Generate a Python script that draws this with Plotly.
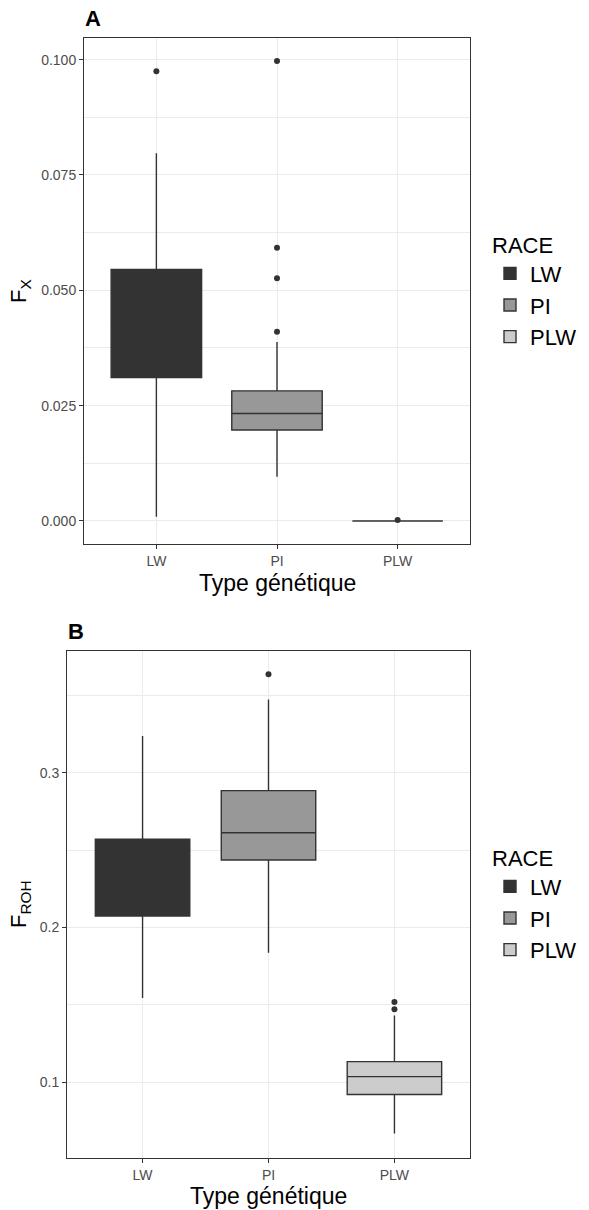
import plotly.graph_objects as go

# ---------------- data ----------------
categories = ["LW", "PI", "PLW"]
fill_colors = ["#333333", "#989898", "#CCCCCC"]

# Panel A : F_X
fx_q1 = [0.0311, 0.0197, 0.0]
fx_median = [0.0430, 0.0233, 0.0]
fx_q3 = [0.0545, 0.0282, 0.0]
fx_lower = [0.0009, 0.0096, 0.0]
fx_upper = [0.0797, 0.0388, 0.0]
fx_out_cat = ["LW", "PI", "PI", "PI", "PI", "PLW"]
fx_out_val = [0.0975, 0.0997, 0.0592, 0.0526, 0.0410, 0.0002]

# Panel B : F_ROH
froh_q1 = [0.2073, 0.2436, 0.0920]
froh_median = [0.2320, 0.2612, 0.1035]
froh_q3 = [0.2571, 0.2884, 0.1132]
froh_lower = [0.1543, 0.1836, 0.0668]
froh_upper = [0.3237, 0.3474, 0.1431]
froh_out_cat = ["PI", "PLW", "PLW"]
froh_out_val = [0.3636, 0.1517, 0.1470]

fx_ticks = [0.0, 0.025, 0.05, 0.075, 0.1]
fx_minor = [0.0125, 0.0375, 0.0625, 0.0875]
froh_ticks = [0.1, 0.2, 0.3]
froh_minor = [0.15, 0.25, 0.35]

# ---------------- layout helpers ----------------
W, H = 589, 1210
FONT = "Liberation Sans, Arial, sans-serif"


def fx(p):
    return p / W


def fy(p):
    return 1 - p / H


fig = go.Figure()


def add_panel(q1, med, q3, lo, up, out_cat, out_val, xa, ya, legend):
    for i, cat in enumerate(categories):
        fig.add_trace(go.Box(
            x=[cat], q1=[q1[i]], median=[med[i]], q3=[q3[i]],
            lowerfence=[lo[i]], upperfence=[up[i]],
            name=cat, legendgroup=legend + cat, legend=legend,
            fillcolor=fill_colors[i],
            line=dict(color="#333333", width=1.4),
            whiskerwidth=0, width=0.75, boxpoints=False,
            xaxis=xa, yaxis=ya, showlegend=True,
        ))
    fig.add_trace(go.Scatter(
        x=out_cat, y=out_val, mode="markers",
        marker=dict(color="#333333", size=6),
        showlegend=False, xaxis=xa, yaxis=ya,
    ))


add_panel(fx_q1, fx_median, fx_q3, fx_lower, fx_upper, fx_out_cat, fx_out_val, "x", "y", "legend")
add_panel(froh_q1, froh_median, froh_q3, froh_lower, froh_upper, froh_out_cat, froh_out_val, "x2", "y2", "legend2")

axis_common = dict(
    showline=True, linecolor="#333333", linewidth=1, mirror=True,
    ticks="outside", ticklen=4, tickcolor="#333333", tickwidth=1,
    tickfont=dict(size=14, color="#4D4D4D", family=FONT),
    showgrid=True, gridcolor="#EBEBEB", gridwidth=1, zeroline=False,
)

xcommon = dict(axis_common, type="category", categoryorder="array",
               categoryarray=categories, range=[-0.6, 2.6])

legend_common = dict(
    font=dict(size=22, color="#000000", family=FONT),
    title=dict(text="RACE", font=dict(size=22, color="#000000", family=FONT)),
    bgcolor="rgba(0,0,0,0)", xanchor="left", yanchor="top",
    tracegroupgap=0, itemclick=False,
)

fig.update_layout(
    width=W, height=H,
    margin=dict(l=0, r=0, t=0, b=0),
    paper_bgcolor="white", plot_bgcolor="white",
    font=dict(family=FONT),
    boxmode="overlay",
    xaxis=dict(xcommon, domain=[fx(84), fx(470)], anchor="y"),
    yaxis=dict(axis_common, domain=[fy(544), fy(38)], anchor="x",
               range=[-0.0050, 0.1047], tickvals=fx_ticks, tickformat=".3f",
               minor=dict(tickvals=fx_minor, showgrid=True, gridcolor="#EBEBEB", gridwidth=0.5, ticks="")),
    xaxis2=dict(xcommon, domain=[fx(67), fx(470)], anchor="y2"),
    yaxis2=dict(axis_common, domain=[fy(1158), fy(651)], anchor="x2",
                range=[0.0509, 0.3787], tickvals=froh_ticks, tickformat=".1f",
                minor=dict(tickvals=froh_minor, showgrid=True, gridcolor="#EBEBEB", gridwidth=0.5, ticks="")),
    legend=dict(legend_common, x=fx(490), y=fy(224)),
    legend2=dict(legend_common, x=fx(490), y=fy(837)),
    showlegend=True,
)

ann = [
    dict(text="<b>A</b>", x=fx(83), y=fy(19), xanchor="left", yanchor="middle",
         font=dict(size=22, color="#000000")),
    dict(text="<b>B</b>", x=fx(66), y=fy(631), xanchor="left", yanchor="middle",
         font=dict(size=22, color="#000000")),
    dict(text="Type génétique", x=fx(277), y=fy(583), xanchor="center", yanchor="middle",
         font=dict(size=23, color="#000000")),
    dict(text="Type génétique", x=fx(268.5), y=fy(1196), xanchor="center", yanchor="middle",
         font=dict(size=23, color="#000000")),
    dict(text="F<sub>X</sub>", x=fx(20), y=fy(291), xanchor="center", yanchor="middle",
         textangle=-90, font=dict(size=22, color="#000000")),
    dict(text="F<sub>ROH</sub>", x=fx(20), y=fy(904), xanchor="center", yanchor="middle",
         textangle=-90, font=dict(size=22, color="#000000")),
]
for a in ann:
    a.update(xref="paper", yref="paper", showarrow=False)
    a["font"]["family"] = FONT
fig.update_layout(annotations=ann)

fig.write_html("out.html")
